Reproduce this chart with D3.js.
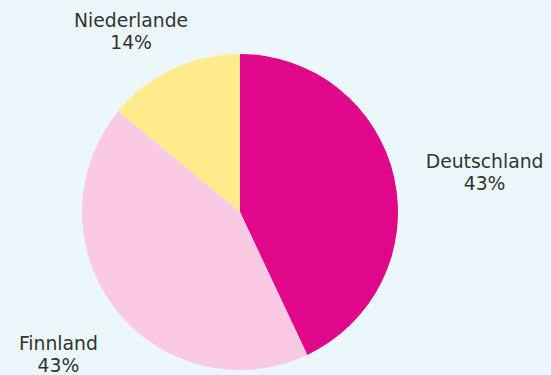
<!DOCTYPE html>
<html>
<head>
<meta charset="utf-8">
<script src="https://cdn.jsdelivr.net/npm/d3@7"></script>
<style>
  html, body { margin: 0; padding: 0; background: #ecf7fc; }
  svg { display: block; }
</style>
</head>
<body>
<svg id="chart" width="551" height="375"></svg>
<script>
// Share by country, in percent, drawn clockwise from 12 o'clock
const countries = ["Deutschland", "Finnland", "Niederlande"];
const shares = [43, 43, 14];
const sliceColors = ["#e1078a", "#fac9e4", "#ffeb8c"];

const width = 551, height = 375;
const cx = 240, cy = 212, radius = 158;

const svg = d3.select("#chart");
svg.append("rect").attr("width", width).attr("height", height).attr("fill", "#ecf7fc");

const color = d3.scaleOrdinal().domain(countries).range(sliceColors);

const data = countries.map((c, i) => ({ name: c, value: shares[i] }));
const pie = d3.pie().value(d => d.value).sort(null);
const arc = d3.arc().innerRadius(0).outerRadius(radius);
const labelArc = d3.arc().innerRadius(radius + 25).outerRadius(radius + 25);

const g = svg.append("g").attr("transform", `translate(${cx},${cy})`);
const arcs = pie(data);

g.selectAll("path.slice")
  .data(arcs)
  .join("path")
  .attr("class", "slice")
  .attr("d", arc)
  .attr("fill", d => color(d.data.name));

// Labels sit outside the rim along each slice's middle angle,
// nudged so they stay clear of the pie and inside the frame.
const nudge = {
  "Deutschland": [66, -4],
  "Finnland": [-37, 26],
  "Niederlande": [-31, -19]
};

const labels = g.selectAll("text.label")
  .data(arcs)
  .join("text")
  .attr("class", "label")
  .attr("text-anchor", "middle")
  .attr("font-family", "DejaVu Sans, Verdana, sans-serif")
  .attr("font-size", 18.8)
  .attr("fill", "#333333")
  .attr("transform", d => {
    const [x, y] = labelArc.centroid(d);
    const [dx, dy] = nudge[d.data.name];
    return `translate(${x + dx},${y + dy})`;
  });

labels.append("tspan")
  .attr("x", 0)
  .attr("y", 0)
  .text(d => d.data.name);

labels.append("tspan")
  .attr("x", 0)
  .attr("y", 22)
  .text(d => d.data.value + "%");
</script>
</body>
</html>
